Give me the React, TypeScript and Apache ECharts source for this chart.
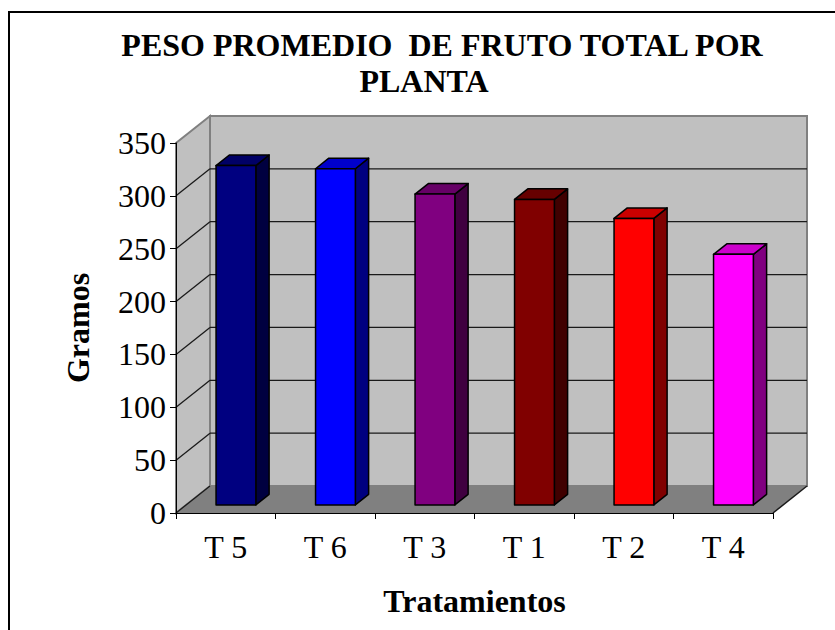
import React, { useEffect, useRef } from "react";
import * as echarts from "echarts";

const categories = ["T 5", "T 6", "T 3", "T 1", "T 2", "T 4"];
const values = [321, 318, 294, 289, 271, 237];
const frontColors = ["#000080", "#0000FF", "#800080", "#800000", "#FF0000", "#FF00FF"];
const topColors = ["#000066", "#0000CC", "#660066", "#660000", "#CC0000", "#CC00CC"];
const sideColors = ["#000040", "#000080", "#400040", "#400000", "#800000", "#800080"];
const yTicks = [0, 50, 100, 150, 200, 250, 300, 350];

const titleLine1 = "PESO PROMEDIO  DE FRUTO TOTAL POR";
const titleLine2 = "PLANTA";
const yName = "Gramos";
const xName = "Tratamientos";

const FONT = '"Liberation Serif", "Times New Roman", serif';
const DX = 34;
const DY = -27;
const F_FRONT = 0.3;
const F_BACK = 0.69;

export default function App() {
  const ref = useRef<HTMLDivElement>(null);
  useEffect(() => {
    if (!ref.current) return;
    const chart = echarts.init(ref.current, null, { renderer: "svg" });
    const step = yTicks[1] - yTicks[0];
    const option: any = {
      animation: false,
      backgroundColor: "#ffffff",
      title: [
        {
          text: titleLine1,
          left: 437,
          top: 24,
          textAlign: "center",
          textStyle: { fontFamily: FONT, fontSize: 32, fontWeight: "bold", color: "#000" },
        },
        {
          text: titleLine2,
          left: 419,
          top: 60,
          textAlign: "center",
          textStyle: { fontFamily: FONT, fontSize: 32, fontWeight: "bold", color: "#000" },
        },
      ],
      graphic: [
        {
          type: "rect",
          shape: { x: 9, y: 12, width: 900, height: 700 },
          style: { fill: "none", stroke: "#000", lineWidth: 2 },
          silent: true,
        },
      ],
      grid: { left: 176, top: 143, width: 597, height: 370, containLabel: false },
      xAxis: {
        type: "category",
        data: categories,
        z: 5,
        axisLine: { show: true, lineStyle: { color: "#000", width: 1 } },
        axisTick: { show: true, length: 6, lineStyle: { color: "#000" }, alignWithLabel: false },
        axisLabel: { fontFamily: FONT, fontSize: 32, color: "#000", margin: 18 },
        splitLine: { show: false },
        name: xName,
        nameLocation: "middle",
        nameGap: 72,
        nameTextStyle: { fontFamily: FONT, fontSize: 32, fontWeight: "bold", color: "#000" },
      },
      yAxis: {
        type: "value",
        min: yTicks[0],
        max: yTicks[yTicks.length - 1],
        interval: step,
        z: 5,
        axisLine: { show: true, lineStyle: { color: "#000", width: 1 } },
        axisTick: { show: true, length: 6, lineStyle: { color: "#000" } },
        axisLabel: { fontFamily: FONT, fontSize: 32, color: "#000", margin: 10 },
        splitLine: { show: false },
        name: yName,
        nameLocation: "middle",
        nameRotate: 90,
        nameGap: 82,
        nameTextStyle: { fontFamily: FONT, fontSize: 32, fontWeight: "bold", color: "#000" },
      },
      series: [
        {
          type: "custom",
          z: 1,
          silent: true,
          data: [[0, 0]],
          renderItem: (params: any, api: any) => {
            const cs = params.coordSys;
            const x0 = cs.x;
            const x1 = cs.x + cs.width;
            const yT = cs.y;
            const yB = cs.y + cs.height;
            const children: any[] = [];
            children.push({
              type: "polygon",
              shape: { points: [[x0, yB], [x1, yB], [x1 + DX, yB + DY], [x0 + DX, yB + DY]] },
              style: { fill: "#808080", stroke: "none" },
            });
            children.push({
              type: "polygon",
              shape: { points: [[x0, yB], [x0 + DX, yB + DY], [x0 + DX, yT + DY], [x0, yT]] },
              style: { fill: "#C0C0C0", stroke: "#808080", lineWidth: 2 },
            });
            children.push({
              type: "rect",
              shape: { x: x0 + DX, y: yT + DY, width: x1 - x0, height: yB - yT },
              style: { fill: "#C0C0C0", stroke: "#808080", lineWidth: 2 },
            });
            yTicks.forEach((v) => {
              if (v === yTicks[0] || v === yTicks[yTicks.length - 1]) return;
              const y = api.coord([0, v])[1];
              children.push({
                type: "line",
                shape: { x1: x0 + DX, y1: y + DY, x2: x1 + DX, y2: y + DY },
                style: { stroke: "#1a1a1a", lineWidth: 1.3 },
              });
              children.push({
                type: "line",
                shape: { x1: x0, y1: y, x2: x0 + DX, y2: y + DY },
                style: { stroke: "#1a1a1a", lineWidth: 1.3 },
              });
            });
            children.push({
              type: "line",
              shape: { x1: x0, y1: yB, x2: x0 + DX, y2: yB + DY },
              style: { stroke: "#1a1a1a", lineWidth: 1.3 },
            });
            children.push({
              type: "line",
              shape: { x1: x1, y1: yB, x2: x1 + DX, y2: yB + DY },
              style: { stroke: "#1a1a1a", lineWidth: 1.5 },
            });
            return { type: "group", children };
          },
        },
        {
          type: "custom",
          z: 3,
          data: values.map((v, i) => [i, v]),
          renderItem: (params: any, api: any) => {
            const idx = params.dataIndex;
            const top = api.coord([api.value(0), api.value(1)]);
            const bot = api.coord([api.value(0), 0]);
            const catW = api.size([1, 0])[0];
            const hw = catW * 0.2;
            const dx1 = DX * F_FRONT, dy1 = DY * F_FRONT;
            const dx2 = DX * F_BACK, dy2 = DY * F_BACK;
            const L = top[0] - hw;
            const R = top[0] + hw;
            const ty = top[1];
            const by = bot[1];
            const edge = { stroke: "#000", lineWidth: 1.5, lineJoin: "round" };
            return {
              type: "group",
              children: [
                {
                  type: "polygon",
                  shape: { points: [[R + dx1, ty + dy1], [R + dx2, ty + dy2], [R + dx2, by + dy2], [R + dx1, by + dy1]] },
                  style: { fill: sideColors[idx], ...edge },
                },
                {
                  type: "polygon",
                  shape: { points: [[L + dx1, ty + dy1], [R + dx1, ty + dy1], [R + dx2, ty + dy2], [L + dx2, ty + dy2]] },
                  style: { fill: topColors[idx], ...edge },
                },
                {
                  type: "rect",
                  shape: { x: L + dx1, y: ty + dy1, width: R - L, height: by - ty },
                  style: { fill: frontColors[idx], ...edge },
                },
              ],
            };
          },
        },
      ],
    };
    chart.setOption(option);
    return () => chart.dispose();
  }, []);
  return (
    <div
      ref={ref}
      style={{ position: "absolute", left: 0, top: 0, width: 835, height: 630 }}
    />
  );
}
